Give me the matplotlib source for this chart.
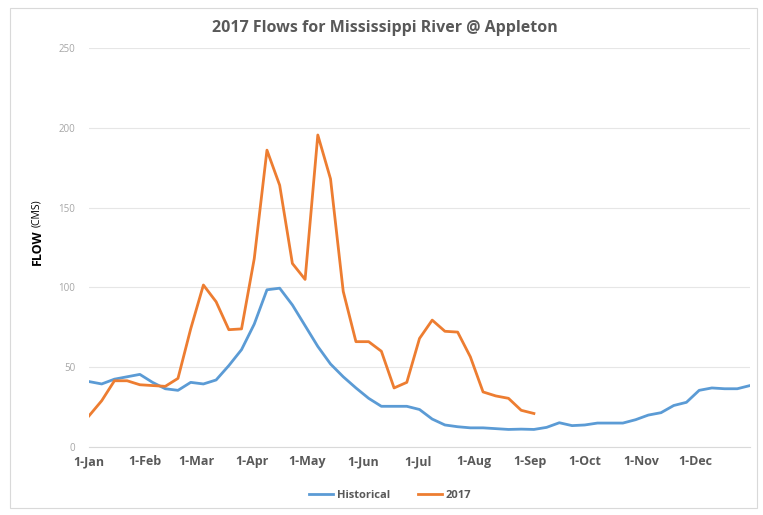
import matplotlib
matplotlib.use("Agg")
import matplotlib.pyplot as plt
import pandas as pd
from matplotlib.patches import Rectangle

title = "2017 Flows for Mississippi River @ Appleton"
historical = [41, 39.5, 42.5, 44, 45.5, 40.5, 36.5, 35.5, 40.5, 39.5, 42, 51, 61, 77,
              98.5, 99.5, 89, 76, 63, 52, 44, 37, 30.5, 25.5, 25.5, 25.5, 23.5, 17.5,
              13.8, 12.7, 12, 12, 11.5, 11, 11.2, 11, 12.3, 15.2, 13.4, 13.8, 15, 15, 15,
              17.1, 20, 21.5, 26, 28, 35.5, 37, 36.5, 36.5, 38.5]
flow2017 = [19.5, 29, 41.5, 41.5, 39, 38.5, 38, 43, 74, 101.5, 91, 73.5, 74, 118, 186,
            164, 115, 105, 195.5, 168, 97.5, 66, 66, 60, 37, 40.5, 68, 79.5, 72.5, 72,
            56.5, 34.5, 32, 30.5, 23, 21]
yticks = [0, 50, 100, 150, 200, 250]

dates_hist = pd.date_range("2017-01-01", periods=len(historical), freq="7D")
dates_2017 = pd.date_range("2017-01-01", periods=len(flow2017), freq="7D")
month_starts = pd.date_range("2017-01-01", "2017-12-01", freq="MS")
month_labels = [f"1-{d:%b}" for d in month_starts]

fig = plt.figure(figsize=(7.63, 5.15), dpi=100)
fig.patch.set_facecolor("white")
fig.patches.append(Rectangle((10/763, 1-508/515), 747/763, 500/515, transform=fig.transFigure,
                             fill=False, edgecolor="#d9d9d9", linewidth=0.8))

ax = fig.add_axes([89/763, 1-447/515, (750-89)/763, (447-48)/515])
ax.plot(dates_hist, historical, color="#5B9BD5", lw=2.0, label="Historical", solid_joinstyle="round")
ax.plot(dates_2017, flow2017, color="#ED7D31", lw=2.0, label="2017", solid_joinstyle="round")

ax.set_xlim(pd.Timestamp("2017-01-01"), pd.Timestamp("2017-12-31"))
ax.set_ylim(0, 250)
ax.set_yticks(yticks)
ax.set_yticklabels([str(v) for v in yticks], fontsize=7, color="#a6a6a6", family="Open Sans")
ax.set_xticks(month_starts)
ax.set_xticklabels(month_labels, fontsize=9, color="#595959", family="Open Sans", fontweight="bold")
ax.tick_params(axis="both", length=0)
ax.tick_params(axis="y", pad=10)
ax.tick_params(axis="x", pad=6)
ax.grid(axis="y", color="#e6e6e6", lw=0.8)
ax.set_axisbelow(True)
for s in ["top", "right", "left"]:
    ax.spines[s].set_visible(False)
ax.spines["bottom"].set_color("#d9d9d9")

fig.text(385/763, 1-28/515, title, ha="center", va="center", fontsize=11.5,
         fontweight="bold", color="#595959", family="Open Sans")
fig.text(37/763, 1-247/515, "FLOW", rotation=90, ha="center", va="center",
         fontsize=9, fontweight="bold", color="black", family="Open Sans")
fig.text(37/763, 1-213/515, "(CMS)", rotation=90, ha="center", va="center",
         fontsize=7.5, color="black", family="Open Sans")

leg = fig.legend(loc="center", bbox_to_anchor=(390/763, 1-495/515), ncol=2, frameon=False,
                 prop={"family": "Open Sans", "size": 8, "weight": "bold"},
                 handlelength=2.2, columnspacing=2.5, handletextpad=0.3)
for t in leg.get_texts():
    t.set_color("#595959")

fig.savefig("out.png", dpi=100)
